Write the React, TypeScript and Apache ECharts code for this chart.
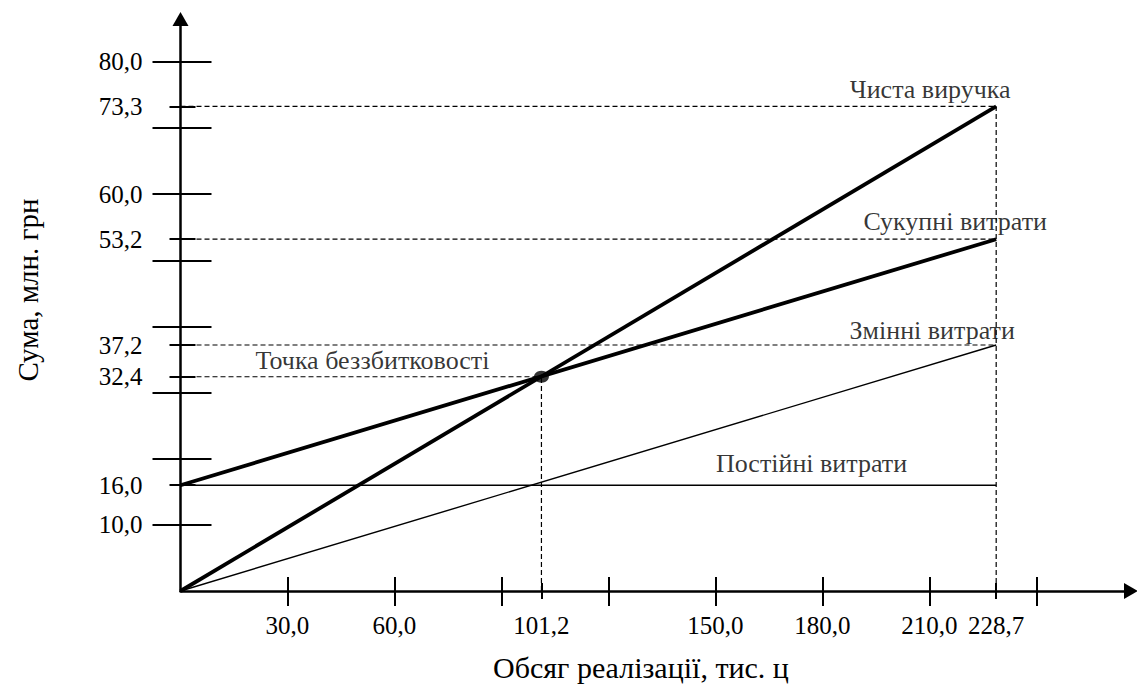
import React, { useEffect, useRef } from "react";
import * as echarts from "echarts";

// ---- data ----
const volume = [0, 228.7]; // тис. ц
const revenue = [0, 73.3]; // Чиста виручка
const totalCosts = [16.0, 53.2]; // Сукупні витрати
const variableCosts = [0, 37.2]; // Змінні витрати
const fixedCosts = [16.0, 16.0]; // Постійні витрати
const breakEven = [101.2, 32.4]; // Точка беззбитковості

const xMajorTicks = [30, 60, 90, 120, 150, 180, 210, 240];
const xMinorTicks = [101.2, 228.7];
const xTickLabels = [30, 60, 101.2, 150, 180, 210, 228.7];

const yMajorTicks = [10, 20, 30, 40, 50, 60, 70, 80];
const yMinorTicks = [16, 32.4, 37.2, 53.2, 73.3];
const yTickLabels = [10, 16, 32.4, 37.2, 53.2, 60, 73.3, 80];

const annotationTexts = [
  "Чиста виручка",
  "Сукупні витрати",
  "Змінні витрати",
  "Точка беззбитковості",
  "Постійні витрати",
];
const annotationAnchorX = [228.7, 228.7, 228.7, 0, 0];
const annotationAnchorY = [73.3, 53.2, 37.2, 32.4, 16.0];

const xAxisTitle = "Обсяг реалізації, тис. ц";
const yAxisTitle = "Сума, млн. грн";

// ---- layout / style ----
const FONT = '"Liberation Serif", "Times New Roman", serif';
const annotationOffsets: [number, number][] = [
  [-66, -17],
  [-41, -18],
  [-64, -15],
  [192, -16],
  [631, -22],
];
const X_MAX = 266.5;
const Y_MAX = 86.5;

const fmt = (v: number) => v.toFixed(1).replace(".", ",");

function tickAxis(kind: "x" | "y", values: number[], length: number, inside: boolean) {
  return {
    type: "value",
    min: 0,
    max: kind === "x" ? X_MAX : Y_MAX,
    position: kind === "x" ? "bottom" : "left",
    offset: 0,
    axisLine: { show: false },
    splitLine: { show: false },
    axisLabel: { show: false },
    axisTick: {
      show: true,
      inside,
      length,
      customValues: values,
      lineStyle: { color: "#000", width: 2 },
    },
  };
}

export default function App() {
  const ref = useRef<HTMLDivElement>(null);

  useEffect(() => {
    if (!ref.current) return;
    const chart = echarts.init(ref.current, null, { renderer: "svg" });

    const line = (ys: number[], width: number) => ({
      type: "line",
      data: volume.map((x, i) => [x, ys[i]]),
      symbol: "none",
      silent: true,
      lineStyle: { color: "#000", width },
      z: 3,
    });
    const dashed = (pts: number[][]) => ({
      type: "line",
      data: pts,
      symbol: "none",
      silent: true,
      lineStyle: { color: "#000", width: 1.2, type: [5, 3] },
      z: 2,
    });

    const option: any = {
      animation: false,
      backgroundColor: "#fff",
      grid: {
        left: 180.5,
        top: 19,
        right: 1137 - 1131,
        bottom: 687 - 591,
        containLabel: false,
        outerBoundsMode: "none",
      },
      xAxis: [
        {
          type: "value",
          min: 0,
          max: X_MAX,
          position: "bottom",
          axisLine: {
            show: true,
            onZero: false,
            symbol: ["none", "triangle"],
            symbolSize: [16, 14],
            lineStyle: { color: "#000", width: 2.5 },
          },
          splitLine: { show: false },
          axisTick: {
            show: true,
            length: 15,
            customValues: xMajorTicks,
            lineStyle: { color: "#000", width: 2 },
          },
          axisLabel: {
            show: true,
            customValues: xTickLabels,
            formatter: (v: number) => fmt(v),
            margin: 22,
            color: "#000",
            fontFamily: FONT,
            fontSize: 25,
          },
        },
        tickAxis("x", xMajorTicks, 14, true),
        tickAxis("x", xMinorTicks, 8, false),
        tickAxis("x", xMinorTicks, 8, true),
      ],
      yAxis: [
        {
          type: "value",
          min: 0,
          max: Y_MAX,
          position: "left",
          axisLine: {
            show: true,
            onZero: false,
            symbol: ["none", "triangle"],
            symbolSize: [16, 14],
            lineStyle: { color: "#000", width: 2.5 },
          },
          splitLine: { show: false },
          axisTick: {
            show: true,
            length: 28,
            customValues: yMajorTicks,
            lineStyle: { color: "#000", width: 2 },
          },
          axisLabel: {
            show: true,
            customValues: yTickLabels,
            formatter: (v: number) => fmt(v),
            margin: 38,
            color: "#000",
            fontFamily: FONT,
            fontSize: 25,
          },
        },
        tickAxis("y", yMajorTicks, 31, true),
        tickAxis("y", yMinorTicks, 11, false),
        tickAxis("y", yMinorTicks, 15, true),
      ],
      series: [
        dashed([[volume[0], revenue[1]], [volume[1], revenue[1]]]),
        dashed([[volume[0], totalCosts[1]], [volume[1], totalCosts[1]]]),
        dashed([[volume[0], variableCosts[1]], [volume[1], variableCosts[1]]]),
        dashed([[volume[0], breakEven[1]], [breakEven[0], breakEven[1]]]),
        dashed([[breakEven[0], 0], [breakEven[0], breakEven[1]]]),
        dashed([[volume[1], 0], [volume[1], revenue[1]]]),
        line(fixedCosts, 1.6),
        line(variableCosts, 1.4),
        line(totalCosts, 3.8),
        line(revenue, 3.8),
        {
          type: "scatter",
          data: [breakEven],
          symbol: "circle",
          symbolSize: [15, 12],
          itemStyle: { color: "#000" },
          silent: true,
          z: 5,
        },
        {
          type: "scatter",
          symbolSize: 0,
          silent: true,
          z: 6,
          data: annotationTexts.map((t, i) => ({
            name: t,
            value: [annotationAnchorX[i], annotationAnchorY[i]],
            label: { offset: annotationOffsets[i] },
          })),
          label: {
            show: true,
            position: "inside",
            formatter: (p: any) => p.name,
            color: "#000",
            fontFamily: FONT,
            fontSize: 26,
          },
        },
      ],
      graphic: [
        {
          type: "text",
          x: 641,
          y: 667,
          silent: true,
          style: {
            text: xAxisTitle,
            fill: "#000",
            font: `30px ${FONT}`,
            textAlign: "center",
            textVerticalAlign: "middle",
          },
        },
        {
          type: "text",
          x: 28,
          y: 290,
          rotation: Math.PI / 2,
          silent: true,
          style: {
            text: yAxisTitle,
            fill: "#000",
            font: `29px ${FONT}`,
            textAlign: "center",
            textVerticalAlign: "middle",
          },
        },
      ],
    };

    chart.setOption(option);
    return () => chart.dispose();
  }, []);

  return (
    <div
      ref={ref}
      style={{ position: "absolute", left: 0, top: 0, width: 1137, height: 687, background: "#fff" }}
    />
  );
}
